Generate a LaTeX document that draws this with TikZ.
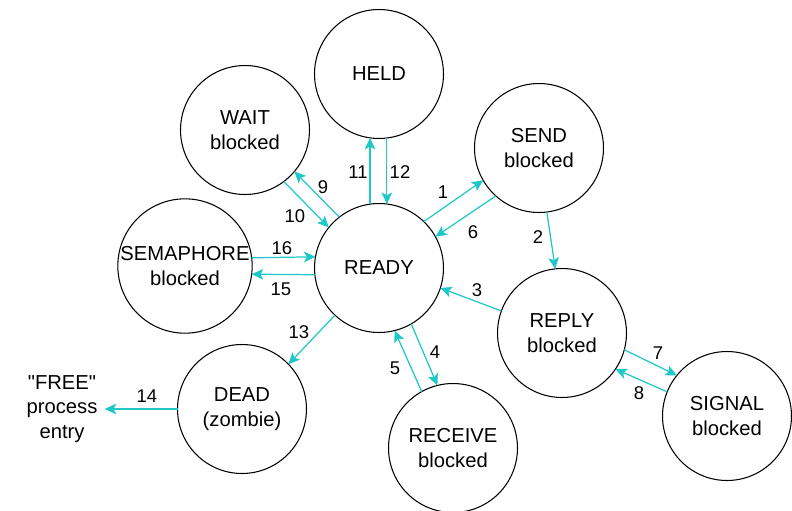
\documentclass[tikz,border=0pt]{standalone}
\usepackage{fontspec}
\setmainfont{Liberation Sans}
\usepackage{xcolor}
\usetikzlibrary{arrows.meta}
\definecolor{trans}{RGB}{30,200,200}

\tikzset{
  state/.style={draw,circle,line width=0.6pt,minimum size=2.58cm,inner sep=0pt,
    outer sep=0pt,align=center,font=\fontsize{11.5}{14}\selectfont},
  move/.style={draw=trans,line width=0.7pt,
    -{Stealth[length=6.5pt,width=6pt,inset=1.5pt]}},
  num/.style={font=\fontsize{10.5}{12}\selectfont,inner sep=0pt}
}

\begin{document}
\begin{tikzpicture}[x=0.02cm,y=-0.02cm]
    \useasboundingbox (0,0) rectangle (792,511);
    % states
    \node[state] (held)   at (379,74)    {HELD};
    \node[state] (wait)   at (245,130)   {WAIT\\blocked};
    \node[state] (send)   at (539,148)   {SEND\\blocked};
    \node[state] (sema)   at (185,266)   {SEMAPHORE\\blocked};
    \node[state] (ready)  at (379,268)   {READY};
    \node[state] (reply)  at (562,333)   {REPLY\\blocked};
    \node[state] (dead)   at (242,409)   {DEAD\\(zombie)};
    \node[state] (recv)   at (453,448)   {RECEIVE\\blocked};
    \node[state] (signal) at (727,416)   {SIGNAL\\blocked};
    \node[align=center,inner sep=4pt,font=\fontsize{11.5}{14}\selectfont]
      (free) at (62,409) {\textquotedbl FREE\textquotedbl\\process\\entry};
    %
    \draw[move] (ready.98)   -- (held.-98);
    \draw[move] (held.-83)   -- (ready.83);
    \draw[move] (ready.128)  -- (wait.-40);
    \draw[move] (wait.-53)   -- (ready.141);
    \draw[move] (sema.7.5)   -- (ready.170.6);
    \draw[move] (ready.186)  -- (sema.-7.5);
    \draw[move] (ready.46.5) -- (send.210.4);
    \draw[move] (send.228.5) -- (ready.29.4);
    \draw[move] (send.-83)   -- (reply.96);
    \draw[move] (reply.160.3) -- (ready.-18.9);
    \draw[move] (ready.-60.6) -- (recv.104.5);
    \draw[move] (recv.119.6) -- (ready.-76);
    \draw[move] (reply.-15.2) -- (signal.141.8);
    \draw[move] (signal.158) -- (reply.-34.9);
    \draw[move] (ready.227)  -- (dead.44);
    \draw[move] (dead.west)  -- (free.east);
    %
    \node[num] (n1)  at (443,192) {1};
    \node[num] (n2)  at (538,237) {2};
    \node[num] (n3)  at (477,290) {3};
    \node[num] (n4)  at (435,352) {4};
    \node[num] (n5)  at (395,368) {5};
    \node[num] (n6)  at (473,232) {6};
    \node[num] (n7)  at (658,353) {7};
    \node[num] (n8)  at (639,393) {8};
    \node[num] (n9)  at (323,187) {9};
    \node[num] (n10) at (295,216) {10};
    \node[num] (n11) at (358,172) {11};
    \node[num] (n12) at (400,172) {12};
    \node[num] (n13) at (299,332) {13};
    \node[num] (n14) at (147,396) {14};
    \node[num] (n15) at (281,289) {15};
    \node[num] (n16) at (282,248) {16};
\end{tikzpicture}
\end{document}
